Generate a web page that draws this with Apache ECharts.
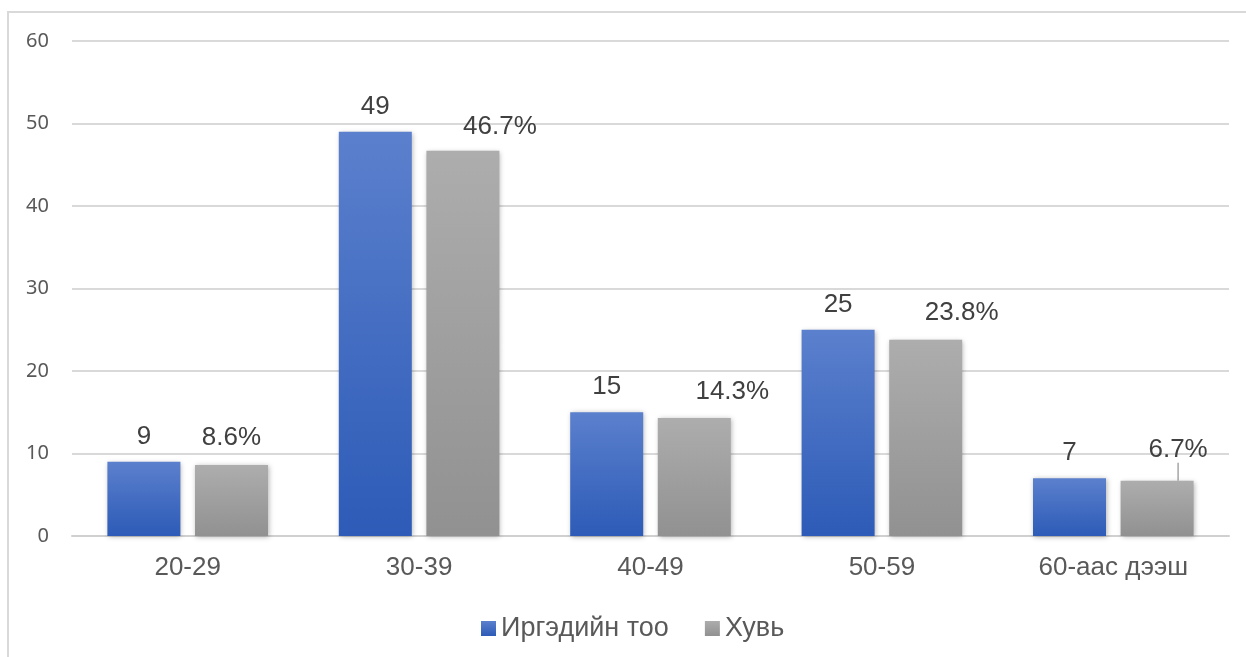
<!DOCTYPE html>
<html>
<head>
<meta charset="utf-8">
<script src="https://cdn.jsdelivr.net/npm/echarts@6/dist/echarts.min.js"></script>
<style>
  html, body { margin: 0; padding: 0; background: #fff; }
  #chart { width: 1246px; height: 657px; }
</style>
</head>
<body>
<div id="chart"></div>
<script>
// age groups
const categories = ['20-29', '30-39', '40-49', '50-59', '60-аас дээш'];
const countValues = [9, 49, 15, 25, 7];       // Иргэдийн тоо
const shareValues = [8.6, 46.7, 14.3, 23.8, 6.7]; // Хувь, %
const yTicks = [0, 10, 20, 30, 40, 50, 60];

// nudges for the percent labels (they sit a bit to the right in the original)
const shareLabelDx = [0, 37, 38, 36, 21];
const shareLabelDy = [-2, 1, -1, -2, -6];

const labelFont = { fontFamily: 'Liberation Sans, Arial', fontSize: 26, color: '#404040' };

const chart = echarts.init(document.getElementById('chart'));

const option = {
    animation: false,
    graphic: [{
        type: 'rect',
        shape: { x: 8, y: 12, width: 1300, height: 700 },
        style: { fill: 'none', stroke: '#d9d9d9', lineWidth: 2 },
        silent: true
    }],
    legend: {
        left: 476,
        top: 610,
        itemWidth: 15,
        itemHeight: 15,
        itemGap: 36,
        icon: 'rect',
        textStyle: { fontFamily: 'Liberation Sans, Arial', fontSize: 27, color: '#595959' },
        data: ['Иргэдийн тоо', 'Хувь']
    },
    grid: { left: 72, right: 17, top: 41, bottom: 121 },
    xAxis: {
        type: 'category',
        data: categories,
        axisTick: { show: false },
        axisLine: { lineStyle: { color: '#d0d0d0', width: 2 } },
        axisLabel: { fontFamily: 'Liberation Sans, Arial', fontSize: 26, color: '#595959', margin: 19 }
    },
    yAxis: {
        type: 'value',
        min: yTicks[0],
        max: yTicks[yTicks.length - 1],
        interval: 10,
        axisLine: { show: false },
        axisTick: { show: false },
        axisLabel: { fontFamily: 'Noto Sans', fontSize: 20, color: '#595959', margin: 23 },
        splitLine: { lineStyle: { color: '#d9d9d9', width: 2 } }
    },
    series: [
        {
            name: 'Иргэдийн тоо',
            type: 'bar',
            barWidth: 73,
            barGap: '20%',
            data: countValues,
            itemStyle: {
                color: new echarts.graphic.LinearGradient(0, 0, 0, 1, [
                    { offset: 0, color: '#5b80cd' },
                    { offset: 1, color: '#2d5bb7' }
                ]),
                shadowColor: 'rgba(0,0,0,0.3)',
                shadowBlur: 5,
                shadowOffsetX: 1,
                shadowOffsetY: 1
            },
            label: Object.assign({ show: true, position: 'top', distance: 12 }, labelFont)
        },
        {
            name: 'Хувь',
            type: 'bar',
            barWidth: 73,
            data: shareValues.map(function (v, i) {
                return { value: v, labelLine: { show: i === shareValues.length - 1 } };
            }),
            itemStyle: {
                color: new echarts.graphic.LinearGradient(0, 0, 0, 1, [
                    { offset: 0, color: '#adadad' },
                    { offset: 1, color: '#919191' }
                ]),
                shadowColor: 'rgba(0,0,0,0.3)',
                shadowBlur: 5,
                shadowOffsetX: 1,
                shadowOffsetY: 1
            },
            label: Object.assign({
                show: true,
                position: 'top',
                distance: 12,
                formatter: function (p) { return p.value + '%'; }
            }, labelFont),
            labelLine: { show: false, lineStyle: { color: '#a6a6a6', width: 1.5 } },
            labelLayout: function (p) {
                return { dx: shareLabelDx[p.dataIndex], dy: shareLabelDy[p.dataIndex] };
            }
        }
    ]
};

chart.setOption(option);
</script>
</body>
</html>
